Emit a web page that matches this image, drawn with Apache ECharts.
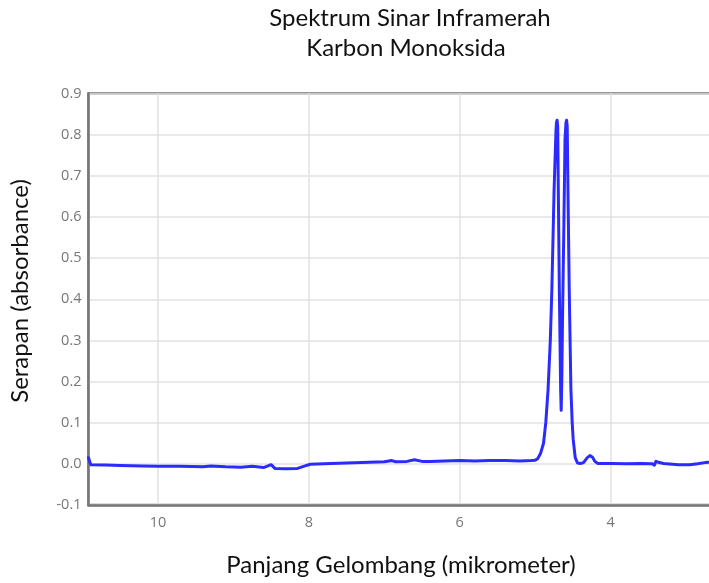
<!DOCTYPE html>
<html>
<head>
<meta charset="utf-8">
<script src="https://cdn.jsdelivr.net/npm/echarts@6/dist/echarts.min.js"></script>
<style>
html,body{margin:0;padding:0;background:#fff;}
#chart{width:709px;height:583px;}
</style>
</head>
<body>
<div id="chart"></div>
<script>
var titleLines = ['Spektrum Sinar Inframerah', 'Karbon Monoksida'];
var xAxisName = 'Panjang Gelombang (mikrometer)';
var yAxisName = 'Serapan (absorbance)';

var wavelength = [10.92, 10.89, 10.7, 10.5, 10.2, 10.0, 9.7, 9.4, 9.3, 9.1, 8.9, 8.75, 8.6, 8.5, 8.45, 8.3, 8.15, 8.05, 7.98, 7.8, 7.5, 7.2, 7.0, 6.9, 6.85, 6.7, 6.6, 6.5, 6.4, 6.2, 6.0, 5.8, 5.6, 5.4, 5.2, 5.05, 5.0, 4.97, 4.93, 4.89, 4.86, 4.83, 4.80, 4.78, 4.75, 4.725, 4.718, 4.71, 4.702, 4.694, 4.68, 4.663, 4.656, 4.648, 4.639, 4.62, 4.605, 4.592, 4.584, 4.576, 4.566, 4.549, 4.527, 4.51, 4.497, 4.47, 4.44, 4.40, 4.36, 4.31, 4.275, 4.24, 4.21, 4.17, 4.0, 3.8, 3.6, 3.45, 3.42, 3.40, 3.37, 3.3, 3.1, 2.95, 2.85, 2.75, 2.68];
var absorbance = [0.015, -0.002, -0.003, -0.004, -0.005, -0.006, -0.006, -0.007, -0.005, -0.007, -0.008, -0.006, -0.009, -0.002, -0.011, -0.012, -0.011, -0.005, -0.001, 0.000, 0.002, 0.004, 0.005, 0.008, 0.005, 0.006, 0.010, 0.006, 0.006, 0.007, 0.008, 0.007, 0.008, 0.008, 0.007, 0.008, 0.009, 0.012, 0.025, 0.05, 0.10, 0.18, 0.30, 0.42, 0.665, 0.81, 0.83, 0.835, 0.82, 0.665, 0.42, 0.18, 0.13, 0.20, 0.34, 0.584, 0.79, 0.83, 0.835, 0.82, 0.665, 0.42, 0.18, 0.10, 0.06, 0.015, 0.002, 0.001, 0.003, 0.015, 0.02, 0.016, 0.006, 0.001, 0.001, 0.0, 0.001, 0.0, -0.003, 0.006, 0.004, 0.001, -0.002, -0.002, 0.0, 0.003, 0.004];

var xTicks = [2, 4, 6, 8, 10];

var seriesData = wavelength.map(function (w, i) { return [w, absorbance[i]]; });

var chart = echarts.init(document.getElementById('chart'), null, {renderer: 'canvas'});
chart.setOption({
  animation: false,
  backgroundColor: '#ffffff',
  grid: {
    left: 88.5, width: 673.1, top: 93.5, height: 411.5,
    outerBoundsMode: 'none', containLabel: false,
    show: true, borderColor: '#777777', borderWidth: 2.5, backgroundColor: 'transparent'
  },
  graphic: [
    {type: 'text', x: 410, y: 6, style: {
      text: titleLines[0], font: '24px Lato', fill: '#111111', textAlign: 'center'}},
    {type: 'text', x: 406, y: 36, style: {
      text: titleLines[1], font: '24px Lato', fill: '#111111', textAlign: 'center'}},
    {type: 'text', x: 401, y: 553, style: {
      text: xAxisName, font: '24px Lato', fill: '#111111', textAlign: 'center'}},
    {type: 'text', x: 8, y: 291, rotation: Math.PI / 2, style: {
      text: yAxisName, font: '24px Lato', fill: '#111111', textAlign: 'center'}}
  ],
  xAxis: {
    type: 'value', inverse: true, min: 2, max: 10.92, interval: 2,
    axisLine: {show: true, onZero: false, lineStyle: {color: '#777777', width: 2.5}},
    axisTick: {show: false},
    splitLine: {show: true, lineStyle: {color: '#e2e2e2', width: 1.5}},
    axisLabel: {color: '#777777', fontSize: 14.5, fontFamily: 'Open Sans', margin: 10,
      showMaxLabel: false, showMinLabel: false,
      formatter: function (v) { return xTicks.indexOf(v) >= 0 ? String(v) : ''; }}
  },
  yAxis: {
    type: 'value', min: -0.1, max: 0.9, interval: 0.1,
    axisLine: {show: true, onZero: false, lineStyle: {color: '#777777', width: 2.5}},
    axisTick: {show: false},
    splitLine: {show: true, lineStyle: {color: '#e2e2e2', width: 1.5}},
    axisLabel: {color: '#777777', fontSize: 14.5, fontFamily: 'Open Sans', margin: 7,
      formatter: function (v) { return v.toFixed(1); }}
  },
  series: [{
    type: 'line', data: seriesData, showSymbol: false, smooth: false,
    lineStyle: {color: '#2b2bff', width: 3, join: 'round', cap: 'round'},
    clip: true
  }]
});
</script>
</body>
</html>
